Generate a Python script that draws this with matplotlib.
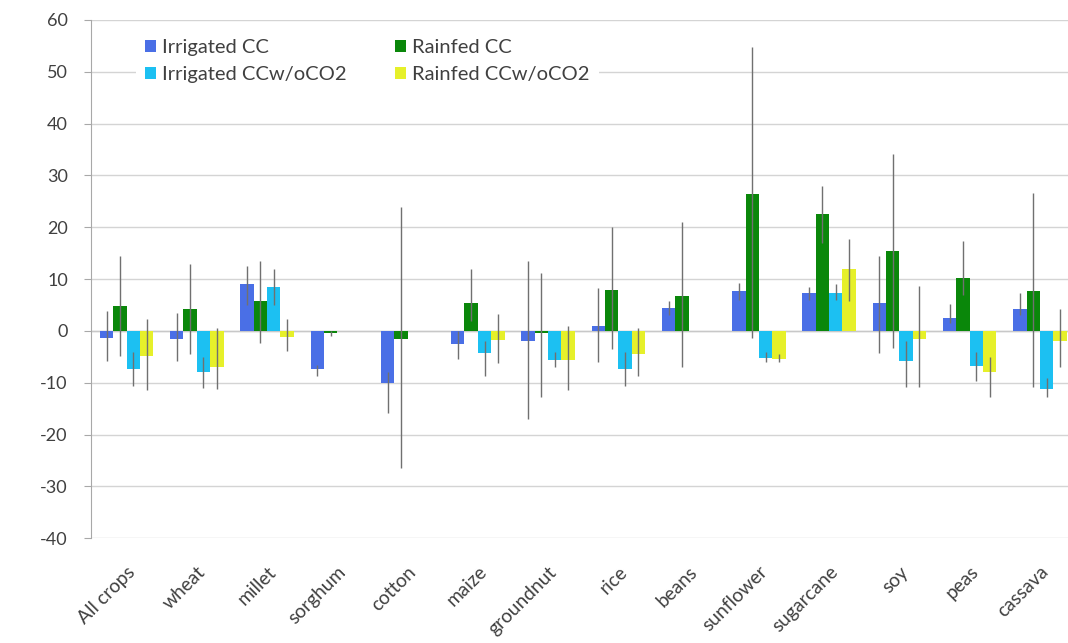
import numpy as np
import matplotlib
matplotlib.use("Agg")
import matplotlib.pyplot as plt
from matplotlib.patches import Patch

# categories and series values (percent change)
crops = ['All crops', 'wheat', 'millet', 'sorghum', 'cotton', 'maize', 'groundnut',
         'rice', 'beans', 'sunflower', 'sugarcane', 'soy', 'peas', 'cassava']

irr_cc = [-1.3, -1.5, 9.0, -7.3, -10.0, -2.5, -1.9, 1.0, 4.5, 7.7, 7.4, 5.4, 2.5, 4.2]
rain_cc = [4.8, 4.2, 5.8, -0.5, -1.5, 5.3, -0.4, 7.8, 6.8, 26.5, 22.5, 15.4, 10.3, 7.7]
irr_noco2 = [-7.3, -8.0, 8.5, 0, 0, -4.3, -5.6, -7.3, 0, -5.2, 7.4, -5.8, -6.8, -11.2]
rain_noco2 = [-4.8, -7.0, -1.2, 0, 0, -1.8, -5.6, -4.5, 0, -5.4, 12.0, -1.5, -8.0, -2.0]

# error bar ends (low, high)
irr_cc_lo = [-5.8, -5.8, 5.0, -8.7, -15.8, -5.4, -17.0, -6.0, 3.0, 6.0, 6.0, -4.2, 1.5, 3.0]
irr_cc_hi = [3.8, 3.5, 12.5, -6.5, -8.0, 0.0, 13.5, 8.3, 5.8, 9.3, 8.5, 14.5, 5.2, 7.4]
rain_cc_lo = [-4.8, -4.5, -2.3, -1.0, -26.5, 2.0, -12.8, -3.5, -7.0, -1.3, 17.0, -3.3, 7.0, -10.9]
rain_cc_hi = [14.5, 13.0, 13.5, 0.0, 24.0, 12.0, 11.2, 20.0, 21.0, 54.7, 28.0, 34.2, 17.4, 26.7]
irr_noco2_lo = [-10.6, -11.0, 5.0, 0, 0, -8.7, -7.0, -10.6, 0, -6.0, 6.0, -10.9, -9.6, -12.8]
irr_noco2_hi = [-4.0, -5.0, 12.0, 0, 0, -2.0, -4.0, -4.0, 0, -4.0, 9.0, -2.0, -4.0, -9.0]
rain_noco2_lo = [-11.5, -11.2, -3.8, 0, 0, -6.2, -11.5, -8.7, 0, -6.0, 5.8, -10.9, -12.8, -7.0]
rain_noco2_hi = [2.3, 0.5, 2.3, 0, 0, 3.3, 1.0, 0.5, 0, -4.5, 17.8, 8.7, -5.0, 4.2]

labels = ['Irrigated CC', 'Rainfed CC', 'Irrigated CCw/oCO2', 'Rainfed CCw/oCO2']
colors = ['#4a6fe6', '#0a870a', '#1cc0f2', '#e6f02a']

plt.rcParams['font.family'] = ['Lato', 'DejaVu Sans']
plt.rcParams['axes.unicode_minus'] = False

fig = plt.figure(figsize=(10.68, 6.43), dpi=100)
# plot area is slightly cut off on the right in the original
ax = fig.add_axes([0.0856, 0.163, 0.921, 0.806])

series = [
    (irr_cc, irr_cc_lo, irr_cc_hi),
    (rain_cc, rain_cc_lo, rain_cc_hi),
    (irr_noco2, irr_noco2_lo, irr_noco2_hi),
    (rain_noco2, rain_noco2_lo, rain_noco2_hi),
]

x = np.arange(len(crops))
width = 0.19
for i, (vals, lo, hi) in enumerate(series):
    vals = np.array(vals, dtype=float)
    lo = np.array(lo, dtype=float)
    hi = np.array(hi, dtype=float)
    pos = x + (i - 1.5) * width
    ax.bar(pos, vals, width, color=colors[i], label=labels[i], zorder=3)
    yerr = np.vstack([np.clip(vals - lo, 0, None), np.clip(hi - vals, 0, None)])
    ax.errorbar(pos, vals, yerr=yerr, fmt='none', ecolor='#707070',
                elinewidth=1, capsize=0, zorder=4)

ax.axhline(0, color='#c8c8c8', lw=1, zorder=2)

ax.set_xlim(-0.5, len(crops) - 0.5)
ax.set_ylim(-40, 60)
ax.set_yticks(np.arange(-40, 61, 10))
ax.yaxis.grid(True, color='#d4d4d4', lw=1)
ax.set_axisbelow(True)

for s in ['top', 'right', 'bottom']:
    ax.spines[s].set_visible(False)
ax.spines['left'].set_color('#a8a8a8')
ax.tick_params(axis='y', length=5, color='#a8a8a8', labelsize=13,
               labelcolor='#404040', pad=12)
ax.set_xticks(x)
ax.set_xticklabels(crops, rotation=45, ha='right', rotation_mode='anchor',
                   fontsize=13.8, color='#404040')
ax.tick_params(axis='x', length=0, pad=18)

# legend fills column-wise, so order handles to get two rows like the original
order = [0, 2, 1, 3]
handles = [Patch(facecolor=colors[k], edgecolor='none') for k in order]
leg = ax.legend(handles, [labels[k] for k in order], ncol=2, loc='upper left',
                bbox_to_anchor=(0.035, 1.0), fontsize=14.5, frameon=True,
                facecolor='white', edgecolor='none', framealpha=1,
                handlelength=0.55, handleheight=0.55, handletextpad=0.3,
                columnspacing=2.4, labelspacing=0.5, borderpad=0.45)
for t in leg.get_texts():
    t.set_color('#404040')

fig.savefig('out.png', dpi=100)
